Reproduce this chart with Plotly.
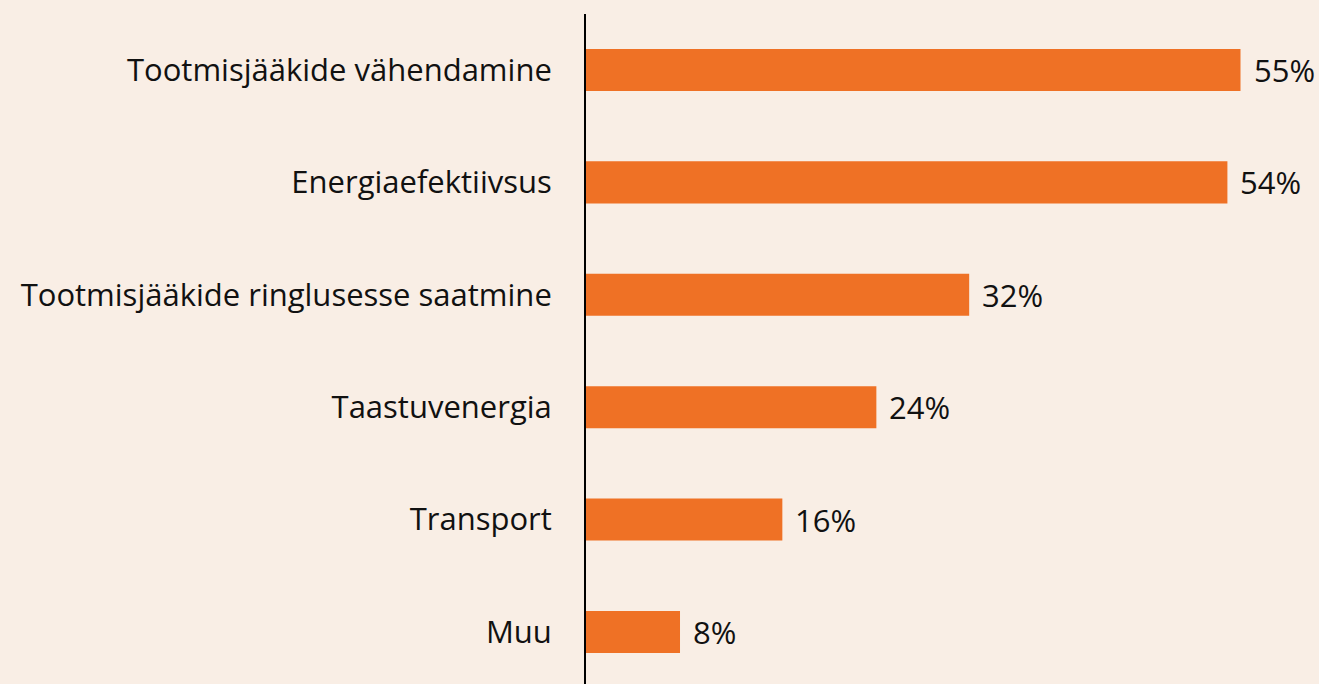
import plotly.graph_objects as go

categories = [
    "Tootmisjääkide vähendamine",
    "Energiaefektiivsus",
    "Tootmisjääkide ringlusesse saatmine",
    "Taastuvenergia",
    "Transport",
    "Muu",
]
values = [55.0, 53.9, 32.2, 24.4, 16.5, 7.9]
value_labels = ["55%", "54%", "32%", "24%", "16%", "8%"]

BG = "#F9EEE5"
BAR = "#EF7125"
FONT = "Open Sans"
FSIZE = 31

fig = go.Figure(
    go.Bar(
        x=values,
        y=categories,
        orientation="h",
        width=0.374,
        marker=dict(color=BAR, line=dict(width=0)),
        hoverinfo="skip",
    )
)

for v, c, lab in zip(values, categories, value_labels):
    fig.add_annotation(
        x=v, y=c, text=lab, showarrow=False,
        xanchor="left", yanchor="middle", xshift=11,
        font=dict(family=FONT, size=FSIZE, color="#111111"),
    )

fig.update_layout(
    width=1319,
    height=684,
    paper_bgcolor=BG,
    plot_bgcolor=BG,
    margin=dict(l=586, r=19, t=14, b=0),
    showlegend=False,
    font=dict(family=FONT, size=FSIZE, color="#111111"),
    xaxis=dict(
        range=[0, 60],
        showgrid=False,
        zeroline=False,
        showticklabels=False,
        showline=False,
        fixedrange=True,
    ),
    yaxis=dict(
        type="category",
        categoryorder="array",
        categoryarray=categories,
        range=[5.463, -0.498],
        showgrid=False,
        zeroline=False,
        showline=True,
        linecolor="#000000",
        linewidth=2,
        ticks="",
        ticklabelstandoff=26,
        tickfont=dict(family=FONT, size=FSIZE, color="#111111"),
        fixedrange=True,
    ),
)

fig.write_html(
    "out.html",
    config={"displayModeBar": False},
    post_script="document.body.style.margin='0';document.body.style.background='" + BG + "';",
)
